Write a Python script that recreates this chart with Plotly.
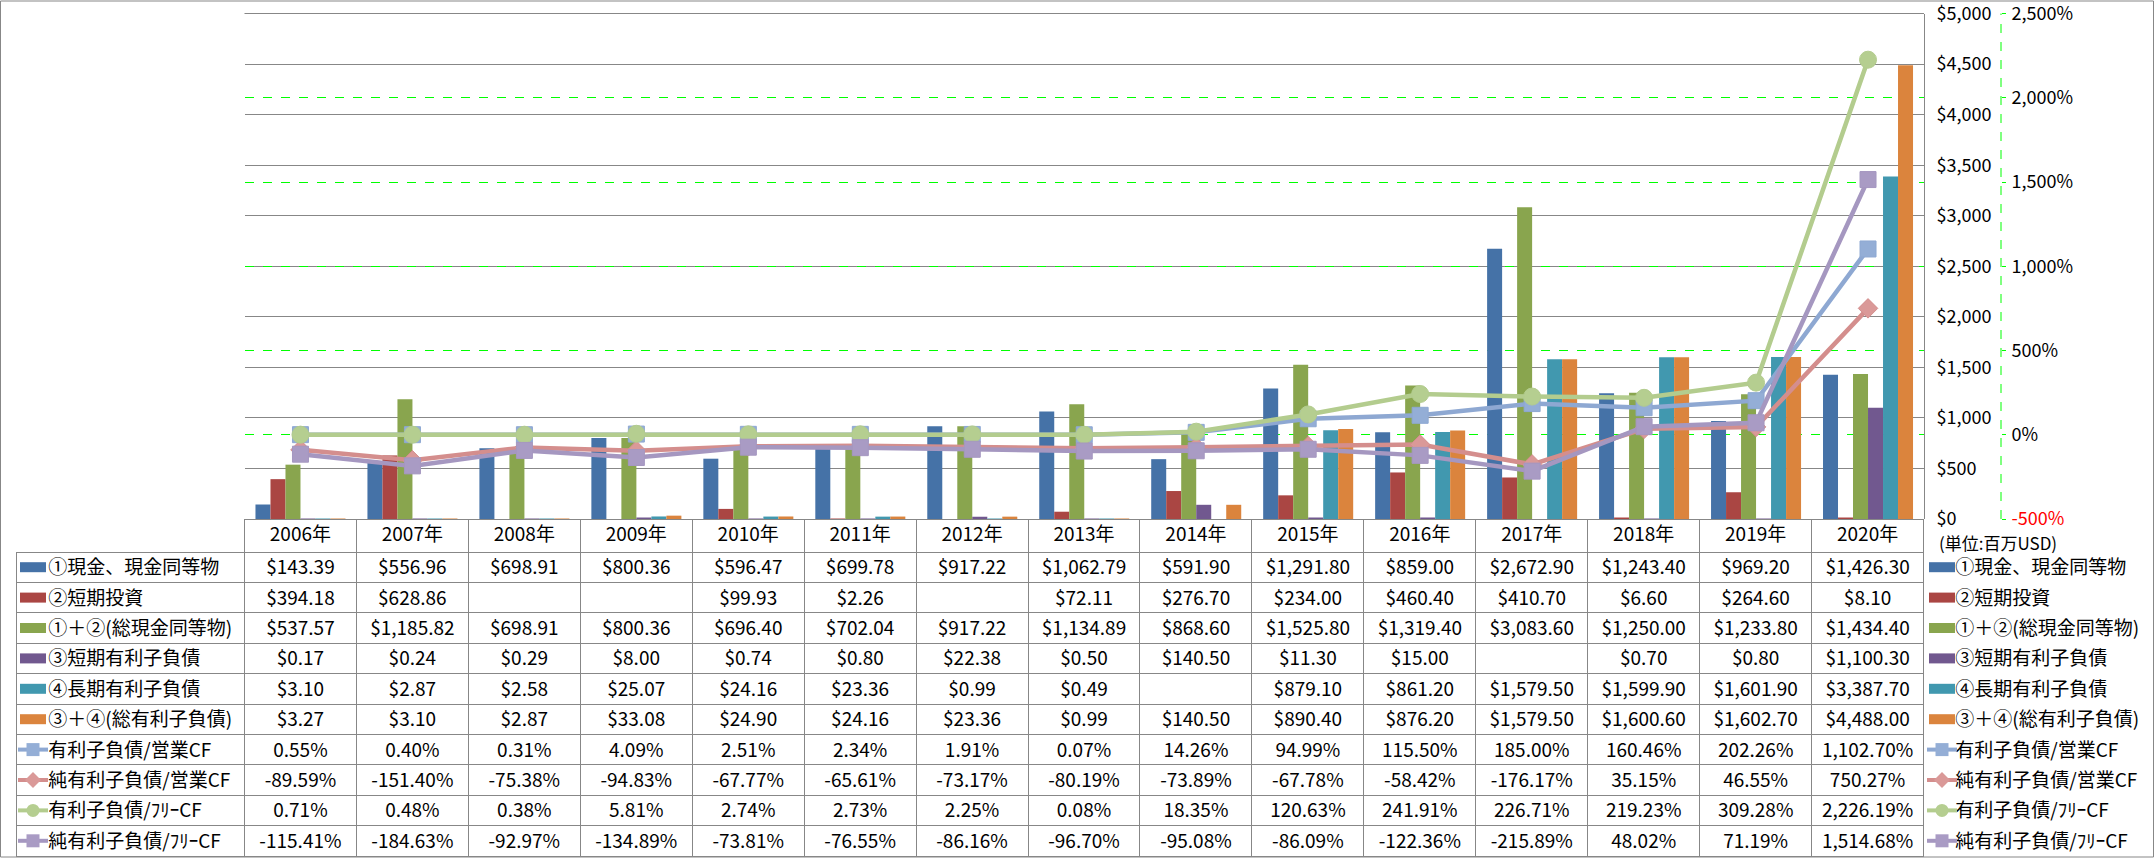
import plotly.graph_objects as go

W, H = 2156, 858

# ---------------- data ----------------
years = ["2006年", "2007年", "2008年", "2009年", "2010年", "2011年", "2012年", "2013年",
         "2014年", "2015年", "2016年", "2017年", "2018年", "2019年", "2020年"]

cash = [143.39, 556.96, 698.91, 800.36, 596.47, 699.78, 917.22, 1062.79, 591.90,
        1291.80, 859.00, 2672.90, 1243.40, 969.20, 1426.30]
short_inv = [394.18, 628.86, None, None, 99.93, 2.26, None, 72.11, 276.70,
             234.00, 460.40, 410.70, 6.60, 264.60, 8.10]
total_cash = [537.57, 1185.82, 698.91, 800.36, 696.40, 702.04, 917.22, 1134.89, 868.60,
              1525.80, 1319.40, 3083.60, 1250.00, 1233.80, 1434.40]
short_debt = [0.17, 0.24, 0.29, 8.00, 0.74, 0.80, 22.38, 0.50, 140.50,
              11.30, 15.00, None, 0.70, 0.80, 1100.30]
long_debt = [3.10, 2.87, 2.58, 25.07, 24.16, 23.36, 0.99, 0.49, None,
             879.10, 861.20, 1579.50, 1599.90, 1601.90, 3387.70]
total_debt = [3.27, 3.10, 2.87, 33.08, 24.90, 24.16, 23.36, 0.99, 140.50,
              890.40, 876.20, 1579.50, 1600.60, 1602.70, 4488.00]

debt_ocf = [0.55, 0.40, 0.31, 4.09, 2.51, 2.34, 1.91, 0.07, 14.26,
            94.99, 115.50, 185.00, 160.46, 202.26, 1102.70]
netdebt_ocf = [-89.59, -151.40, -75.38, -94.83, -67.77, -65.61, -73.17, -80.19, -73.89,
               -67.78, -58.42, -176.17, 35.15, 46.55, 750.27]
debt_fcf = [0.71, 0.48, 0.38, 5.81, 2.74, 2.73, 2.25, 0.08, 18.35,
            120.63, 241.91, 226.71, 219.23, 309.28, 2226.19]
netdebt_fcf = [-115.41, -184.63, -92.97, -134.89, -73.81, -76.55, -86.16, -96.70, -95.08,
               -86.09, -122.36, -215.89, 48.02, 71.19, 1514.68]

bar_names = ["①現金、現金同等物", "②短期投資", "①＋②(総現金同等物)",
             "③短期有利子負債", "④長期有利子負債", "③＋④(総有利子負債)"]
line_names = ["有利子負債/営業CF", "純有利子負債/営業CF", "有利子負債/ﾌﾘｰCF", "純有利子負債/ﾌﾘｰCF"]

usd_ticks = [0, 500, 1000, 1500, 2000, 2500, 3000, 3500, 4000, 4500, 5000]
pct_ticks = [-500, 0, 500, 1000, 1500, 2000, 2500]
unit_label = "(単位:百万USD)"

# ---------------- styles ----------------
FONT = "Noto Sans CJK JP, Noto Sans, sans-serif"
bar_colors = ["#4572A7", "#AA4643", "#89A54E", "#71588F", "#4198AF", "#DB843D"]
line_colors = ["#8EA8D2", "#D48E8D", "#B3CC8E", "#A597C0"]
marker_colors = ["#94AED6", "#DA9998", "#B5CE90", "#A99BC4"]
marker_symbols = ["square", "diamond", "circle", "square"]
marker_sizes = [16, 15, 17, 16]
GRID = "#878787"
GREEN = "#00FF00"
TFS = 19  # table font size

# plot area in pixels
PL, PR, PT, PB = 244.5, 1924, 13.5, 519
HEAD_H, ROW_H = 33, 30.4


def fx(x):
    return x / W


def fy(y):
    return 1 - y / H


fig = go.Figure()

bar_series = [cash, short_inv, total_cash, short_debt, long_debt, total_debt]
for name, vals, col in zip(bar_names, bar_series, bar_colors):
    fig.add_trace(go.Bar(x=years, y=vals, name=name, marker=dict(color=col, line=dict(width=0)),
                         showlegend=False, yaxis="y"))

line_series = [debt_ocf, netdebt_ocf, debt_fcf, netdebt_fcf]
for name, vals, lc, mc, sym, ms in zip(line_names, line_series, line_colors, marker_colors,
                                        marker_symbols, marker_sizes):
    fig.add_trace(go.Scatter(x=years, y=vals, name=name, mode="lines+markers", yaxis="y2",
                             line=dict(color=lc, width=4.5),
                             marker=dict(symbol=sym, size=ms, color=mc,
                                         line=dict(color=lc, width=1)),
                             showlegend=False))

# ---------------- table ----------------
def fmt_usd(v):
    return "" if v is None else f"${v:,.2f}"


def fmt_pct(v):
    return "" if v is None else f"{v:,.2f}%"


pad = "\u2003\u2005"
all_names = bar_names + line_names
rows = [[fmt_usd(v) for v in s] for s in bar_series] + [[fmt_pct(v) for v in s] for s in line_series]
label_col = [pad + n for n in all_names]
year_cols = [[rows[r][c] for r in range(len(rows))] for c in range(len(years))]
legend_col = [pad + n for n in all_names]

clear = "rgba(0,0,0,0)"
line_cols = [GRID] + [GRID] * len(years) + [clear]
head_line_cols = [clear] + [GRID] * len(years) + [clear]

fig.add_trace(go.Table(
    domain=dict(x=[fx(16.5), 1.0], y=[0.0, fy(PB)]),
    columnwidth=[PL - 16.5] + [(PR - PL) / len(years)] * len(years) + [W - PR],
    header=dict(values=[""] + years + [""], height=HEAD_H,
                align="center", font=dict(family=FONT, size=TFS, color="black"),
                fill=dict(color=clear), line=dict(color=head_line_cols, width=1)),
    cells=dict(values=[label_col] + year_cols + [legend_col], height=ROW_H,
               align=["left"] + ["center"] * len(years) + ["left"],
               font=dict(family=FONT, size=TFS, color="black"),
               fill=dict(color=clear), line=dict(color=line_cols, width=1)),
))

# ---------------- legend keys (left and right) ----------------
shapes = []
for i, name in enumerate(all_names):
    yc = PB + HEAD_H + ROW_H * i + ROW_H / 2
    for x0 in (20, 1929):
        if i < 6:
            shapes.append(dict(type="rect", xref="paper", yref="paper",
                               x0=fx(x0), x1=fx(x0 + 26), y0=fy(yc + 5), y1=fy(yc - 5),
                               fillcolor=bar_colors[i], line=dict(width=0)))
        else:
            j = i - 6
            xm = x0 + 13
            shapes.append(dict(type="line", xref="paper", yref="paper",
                               x0=fx(x0 - 2), x1=fx(x0 + 28), y0=fy(yc), y1=fy(yc),
                               line=dict(color=line_colors[j], width=4)))
            s = 6.5
            if marker_symbols[j] == "square":
                shapes.append(dict(type="rect", xref="paper", yref="paper",
                                   x0=fx(xm - s), x1=fx(xm + s), y0=fy(yc + s), y1=fy(yc - s),
                                   fillcolor=marker_colors[j], line=dict(width=0)))
            elif marker_symbols[j] == "circle":
                shapes.append(dict(type="circle", xref="paper", yref="paper",
                                   x0=fx(xm - s), x1=fx(xm + s), y0=fy(yc + s), y1=fy(yc - s),
                                   fillcolor=marker_colors[j], line=dict(width=0)))
            else:
                d = 8
                path = (f"M {fx(xm - d)},{fy(yc)} L {fx(xm)},{fy(yc - d)} "
                        f"L {fx(xm + d)},{fy(yc)} L {fx(xm)},{fy(yc + d)} Z")
                shapes.append(dict(type="path", xref="paper", yref="paper", path=path,
                                   fillcolor=marker_colors[j], line=dict(width=0)))

# secondary axis dashed line
shapes.append(dict(type="line", xref="paper", yref="paper", x0=fx(2001), x1=fx(2001),
                   y0=fy(PB), y1=fy(PT), line=dict(color=GREEN, width=1, dash="dash")))
# top gridline of plot area ($5,000)
shapes.append(dict(type="line", xref="paper", yref="paper", x0=fx(PL), x1=fx(PR),
                   y0=fy(PT), y1=fy(PT), line=dict(color=GRID, width=1), layer="below"))
# outer border
shapes.append(dict(type="rect", xref="paper", yref="paper", x0=fx(0.5), x1=fx(W - 2.5),
                   y0=fy(H - 1), y1=fy(1), line=dict(color=GRID, width=1), fillcolor=clear))

usd_text = [f"${v:,}" for v in usd_ticks]
pct_text = []
for v in pct_ticks:
    t = f"{v:,}%"
    pct_text.append(f"<span style='color:red'>{t}</span>" if v == -500 else t)

fig.update_layout(
    width=W, height=H, autosize=False,
    margin=dict(l=0, r=0, t=0, b=0, autoexpand=False),
    paper_bgcolor="white", plot_bgcolor="white",
    font=dict(family=FONT, size=18, color="black"),
    barmode="group", bargap=0.196, bargroupgap=0,
    showlegend=False,
    xaxis=dict(domain=[fx(PL), fx(PR)], type="category", showticklabels=False, automargin=False,
               showgrid=False, zeroline=False, showline=False, range=[-0.5, len(years) - 0.5]),
    yaxis=dict(domain=[fy(PB), fy(PT)], range=[0, 5000.5], side="right", automargin=False,
               tickmode="array", tickvals=usd_ticks, ticktext=usd_text,
               showgrid=True, gridcolor=GRID, gridwidth=1,
               showline=True, linecolor=GRID, linewidth=1, zeroline=False, ticks="",
               ticklabelstandoff=8, ticklabeloverflow="allow", tickfont=dict(size=18)),
    yaxis2=dict(overlaying="y", side="right", anchor="free", position=fx(2001), automargin=False,
                range=[-500, 2500.3], tickmode="array", tickvals=pct_ticks, ticktext=pct_text,
                showgrid=True, gridcolor=GREEN, griddash="dash", gridwidth=1,
                showline=False, zeroline=False, ticks="outside", ticklen=4, tickcolor=GREEN,
                ticklabelstandoff=2, ticklabeloverflow="allow", tickfont=dict(size=18)),
    shapes=shapes,
    annotations=[dict(text=unit_label, xref="paper", yref="paper", x=fx(1937), y=fy(542),
                      xanchor="left", yanchor="middle", showarrow=False,
                      font=dict(family=FONT, size=17, color="black"))],
)

post = ("document.body.style.margin='0';document.body.style.padding='0';"
        "document.documentElement.style.margin='0';document.body.style.overflow='hidden';"
        "document.documentElement.style.overflow='hidden';")
fig.write_html("out.html", config={"displayModeBar": False}, post_script=post)
